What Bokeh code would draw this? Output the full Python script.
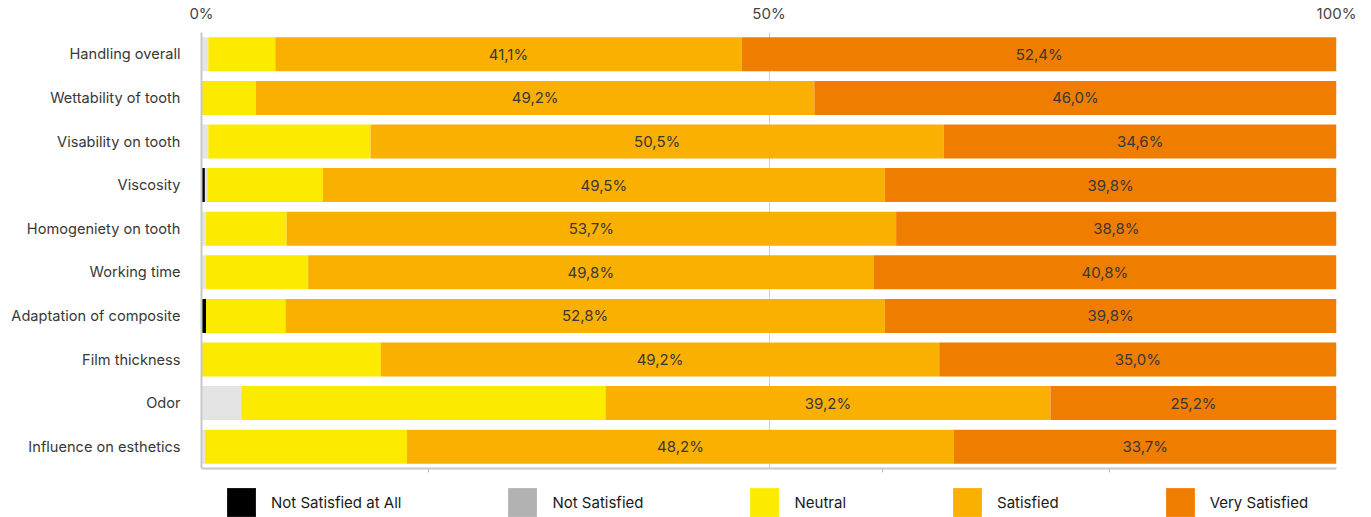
from bokeh.plotting import figure
from bokeh.layouts import column
from bokeh.models import (ColumnDataSource, FactorRange, Range1d, FixedTicker,
                          LinearAxis, Legend, LegendItem, Grid)
from bokeh.embed import file_html
from bokeh.resources import INLINE
from bokeh.core.properties import value

categories = ["Handling overall", "Wettability of tooth", "Visability on tooth",
              "Viscosity", "Homogeniety on tooth", "Working time",
              "Adaptation of composite", "Film thickness", "Odor",
              "Influence on esthetics"]
not_satisfied_at_all = [0, 0, 0, 0.3, 0, 0, 0.4, 0, 0, 0]
not_satisfied = [0.6, 0, 0.6, 0.2, 0.4, 0.4, 0, 0, 3.5, 0.3]
neutral = [5.9, 4.8, 14.3, 10.2, 7.1, 9.0, 7.0, 15.8, 32.1, 17.8]
satisfied = [41.1, 49.2, 50.5, 49.5, 53.7, 49.8, 52.8, 49.2, 39.2, 48.2]
very_satisfied = [52.4, 46.0, 34.6, 39.8, 38.8, 40.8, 39.8, 35.0, 25.2, 33.7]

series_names = ["Not Satisfied at All", "Not Satisfied", "Neutral", "Satisfied", "Very Satisfied"]
bar_colors = ["#000000", "#e4e4e4", "#fcea00", "#f9b000", "#ef7d00"]
legend_colors = ["#000000", "#b2b2b2", "#fcea00", "#f9b000", "#ef7d00"]
top_ticks = [0, 50, 100]
top_tick_labels = ["0%", "50%", "100%"]
bottom_ticks = [20, 60, 80]

FONT = "Inter"
TXT = "#383838"


def fmt(v):
    return ("%.1f" % v).replace(".", ",") + "%"


keys = ["nsa", "ns", "neu", "sat", "vs"]
data = dict(cat=categories, nsa=not_satisfied_at_all, ns=not_satisfied,
            neu=neutral, sat=satisfied, vs=very_satisfied)
base_sat = [a + b + c for a, b, c in zip(not_satisfied_at_all, not_satisfied, neutral)]
data["sat_mid"] = [b + s / 2 for b, s in zip(base_sat, satisfied)]
data["vs_mid"] = [b + s + v / 2 for b, s, v in zip(base_sat, satisfied, very_satisfied)]
data["sat_lbl"] = [fmt(v) for v in satisfied]
data["vs_lbl"] = [fmt(v) for v in very_satisfied]
source = ColumnDataSource(data)

p = figure(width=1371, height=484, output_backend="svg", toolbar_location=None,
           y_range=FactorRange(factors=categories[::-1]),
           x_range=Range1d(0, 100), x_axis_location=None,
           min_border_left=201, min_border_right=35, min_border_top=30,
           min_border_bottom=16)
p.outline_line_color = None
p.background_fill_color = "white"

p.hbar_stack(keys, y="cat", height=0.78, color=bar_colors, source=source,
             line_color=None)

for xcol, tcol in (("sat_mid", "sat_lbl"), ("vs_mid", "vs_lbl")):
    p.text(x=xcol, y="cat", text=tcol, source=source, text_align="center",
           text_baseline="middle", text_font=value(FONT),
           text_font_size="15px", text_color=TXT)

# left axis
yax = p.yaxis[0]
yax.axis_line_color = "#c8c8c8"
yax.axis_line_width = 2
yax.major_tick_line_color = None
yax.minor_tick_line_color = None
yax.major_label_standoff = 15
yax.major_label_text_font = FONT
yax.major_label_text_font_size = "14.6px"
yax.major_label_text_color = TXT

# top axis with percentage labels
top = LinearAxis(ticker=FixedTicker(ticks=top_ticks),
                 major_label_overrides={t: l for t, l in zip(top_ticks, top_tick_labels)})
top.axis_line_color = None
top.major_tick_line_color = None
top.minor_tick_line_color = None
top.major_label_standoff = 4
top.major_label_text_font = FONT
top.major_label_text_font_size = "15px"
top.major_label_text_color = "#444444"
p.add_layout(top, "above")

# bottom axis line with small ticks
bot = LinearAxis(ticker=FixedTicker(ticks=bottom_ticks),
                 major_label_overrides={t: "" for t in bottom_ticks})
bot.axis_line_color = "#c8c8c8"
bot.axis_line_width = 2
bot.major_tick_line_color = "#bdbdbd"
bot.major_tick_in = 0
bot.major_tick_out = 4
bot.minor_tick_line_color = None
bot.major_label_text_font_size = "0px"
bot.major_label_standoff = 0
p.add_layout(bot, "below")

p.xgrid.grid_line_color = None
p.ygrid.grid_line_color = None
g = Grid(dimension=0, ticker=FixedTicker(ticks=[50, 100]),
         grid_line_color="#cfcfcf", grid_line_width=1)
p.add_layout(g)

# legend strip (dummy renderers, placed outside the range, carry the swatch colours)
lf = figure(width=1371, height=33, output_backend="svg", toolbar_location=None,
            x_range=Range1d(0, 1), y_range=Range1d(0, 1),
            x_axis_location=None, y_axis_location=None,
            min_border_left=201, min_border_right=35, min_border_top=0,
            min_border_bottom=0)
lf.outline_line_color = None
lf.xgrid.grid_line_color = None
lf.ygrid.grid_line_color = None
items = []
for name, col in zip(series_names, legend_colors):
    r = lf.rect(x=[-5], y=[-5], width=0.1, height=0.1, fill_color=col,
                line_color=None)
    items.append(LegendItem(label=name, renderers=[r]))
legend = Legend(items=items, orientation="horizontal", location=(22, -3),
                glyph_width=36, glyph_height=36, label_standoff=12, spacing=103,
                padding=0, margin=0, background_fill_alpha=0,
                border_line_color=None, label_text_font=FONT,
                label_text_font_size="15px", label_text_color="#1a1a1a")
lf.add_layout(legend, "center")

open("out.html", "w").write(file_html(column(p, lf), INLINE))
